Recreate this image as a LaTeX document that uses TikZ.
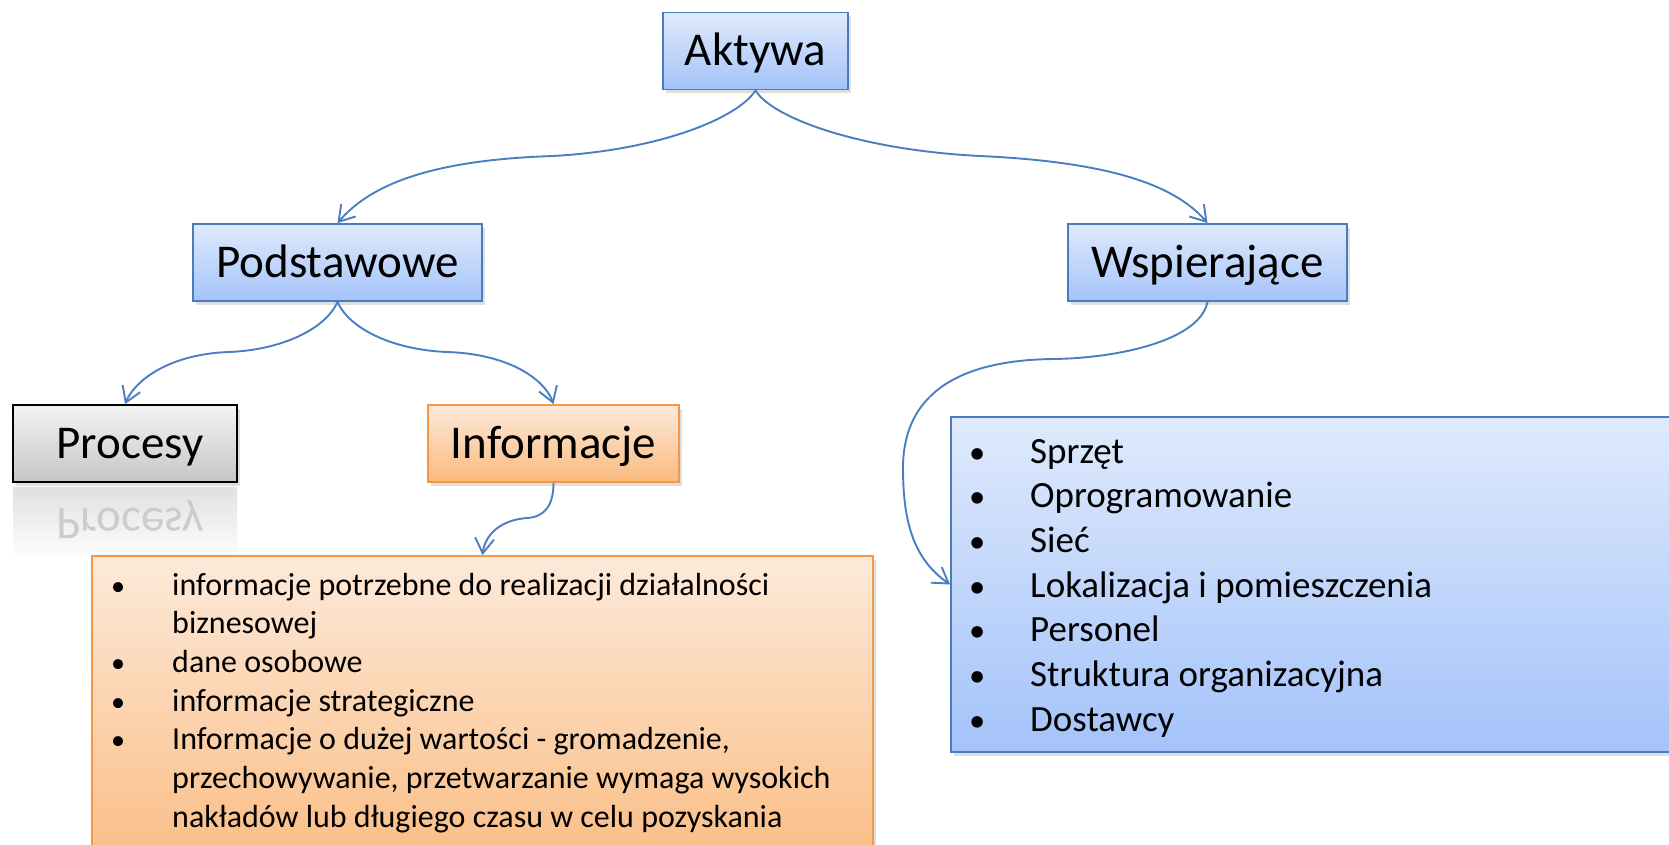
\documentclass[tikz,border=0pt]{standalone}
\usepackage{fontspec}
\setmainfont{Carlito}
\usetikzlibrary{arrows.meta,shadows}
\definecolor{bdblue}{RGB}{74,126,187}
\definecolor{conblue}{RGB}{74,126,193}
\definecolor{bluetop}{RGB}{223,234,252}
\definecolor{bluebot}{RGB}{164,195,250}
\definecolor{orborder}{RGB}{247,150,70}
\definecolor{ortop}{RGB}{253,234,218}
\definecolor{orbot}{RGB}{250,186,126}
\definecolor{graytop}{RGB}{244,244,244}
\definecolor{graybot}{RGB}{198,198,198}
\newcommand{\bul}{\makebox[62pt][l]{\hspace*{1pt}\scalebox{0.88}{•}}}
\newcommand{\nobul}{\makebox[62pt][l]{}}
\begin{document}
\begin{tikzpicture}[x=1pt,y=-1pt,
  shadowed/.style={drop shadow={opacity=0.25, shadow xshift=3pt, shadow yshift=-4pt}},
  box/.style={shadowed, line width=1.8pt, inner sep=0pt, minimum height=77pt,
    text height=30pt, text depth=0pt, font=\fontsize{47}{56}\selectfont},
  bluebox/.style={box, draw=bdblue, top color=bluetop, bottom color=bluebot},
  orbox/.style={box, draw=orborder, top color=ortop, bottom color=orbot},
  graybox/.style={box, draw=black, top color=graytop, bottom color=graybot},
  listbox/.style={shadowed, line width=1.8pt, inner sep=0pt},
  blueitem/.style={anchor=base west, inner sep=0pt, font=\fontsize{37}{44}\selectfont},
  oritem/.style={anchor=base west, inner sep=0pt, font=\fontsize{32}{38}\selectfont},
  conn/.style={draw=conblue, line width=1.9pt,
    -{Straight Barb[length=15pt,width=19pt,line width=1.9pt]}}
]
\useasboundingbox (0,0) rectangle (1669,845);
\clip (0,0) rectangle (1669,845);

% top level
\node[bluebox, minimum width=185pt] (aktywa) at (755.5,51) {Aktywa};
\node[bluebox, minimum width=289pt] (podst) at (337.5,262.5) {Podstawowe};
\node[bluebox, minimum width=279pt] (wspier) at (1207.5,262.5) {Wspierające};

% reflection of Procesy
\node[inner sep=0pt, minimum width=224pt, minimum height=73pt, top color=black!12, bottom color=white,
  text height=0pt, text depth=30pt, text=black!20, font=\fontsize{47}{56}\selectfont]
  (procrefl) at (125,523.5) {\hspace*{10pt}\scalebox{1}[-1]{Procesy}};

\node[graybox, minimum width=224pt] (procesy) at (125,443.5) {\hspace*{10pt}Procesy};
\node[orbox, minimum width=251pt] (inform) at (553.5,443.5) {Informacje};

% list boxes
\node[listbox, draw=orborder, top color=ortop, bottom color=orbot,
  minimum width=781pt, minimum height=330pt] (olist) at (482.5,721) {};
\node[listbox, draw=bdblue, top color=bluetop, bottom color=bluebot,
  minimum width=769pt, minimum height=335pt] (blist) at (1335.5,584.5) {};

% blue list
\foreach \t [count=\i from 0] in {Sprzęt, Oprogramowanie, Sieć, Lokalizacja i pomieszczenia, Personel, Struktura organizacyjna, Dostawcy}
  \node[blueitem] (bitem\i) at (968,{463+44.7*\i}) {\bul\t};

% orange list
\node[oritem] (oitem0) at (110,595) {\bul informacje potrzebne do realizacji działalności};
\node[oritem] (oitem1) at (110,633.7) {\nobul biznesowej};
\node[oritem] (oitem2) at (110,672.4) {\bul dane osobowe};
\node[oritem] (oitem3) at (110,711.1) {\bul informacje strategiczne};
\node[oritem] (oitem4) at (110,749.8) {\bul Informacje o dużej wartości - gromadzenie,};
\node[oritem] (oitem5) at (110,788.5) {\nobul przechowywanie, przetwarzanie wymaga wysokich};
\node[oritem] (oitem6) at (110,827.2) {\nobul nakładów lub długiego czasu w celu pozyskania};

% connectors
\draw[conn] (aktywa.south) .. controls (738,118) and (660,150) .. (553,156)
  .. controls (430,160) and (370,185) .. (podst.north);
\draw[conn] (aktywa.south) .. controls (772,118) and (860,150) .. (980,156)
  .. controls (1110,162) and (1175,185) .. (wspier.north);
\draw[conn] (podst.south) .. controls (325,330) and (280,350) .. (229,352)
  .. controls (170,354) and (135,380) .. (procesy.north);
\draw[conn] (podst.south) .. controls (350,330) and (395,350) .. (447,352)
  .. controls (510,354) and (545,380) .. (inform.north);
\draw[conn] (inform.south) .. controls (553.5,505) and (545,517) .. (527,518)
  .. controls (500,520) and (485,535) .. (olist.north);
\draw[conn] (wspier.south) .. controls (1200,340) and (1120,358) .. (1054,359)
  .. controls (950,360) and (903,400) .. (903,468)
  .. controls (903,525) and (915,560) .. (blist.west);
\end{tikzpicture}
\end{document}
